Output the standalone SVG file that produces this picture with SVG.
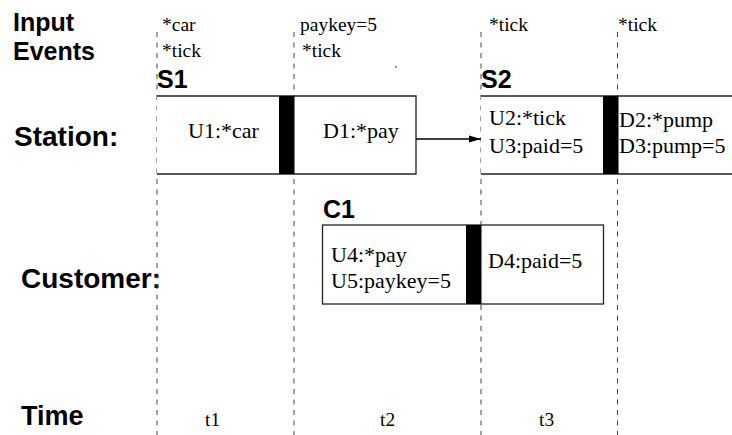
<svg xmlns="http://www.w3.org/2000/svg" width="732" height="435" viewBox="0 0 732 435">
  <defs>
    <style>
      .lbl { font-family: "Liberation Sans", Arial, sans-serif; font-weight: bold; fill: #000; }
      .row { font-size: 28px; }
      .hdr { font-size: 25px; }
      .txt { font-family: "Liberation Serif", "Times New Roman", serif; font-size: 22px; fill: #000; }
      .ev { font-family: "Liberation Serif", "Times New Roman", serif; font-size: 19.5px; fill: #000; }
      .tl { stroke: #444; stroke-width: 1; stroke-dasharray: 5 5.5; fill: none; }
      .box { fill: #fff; stroke: #222; stroke-width: 1.3; }
      .edge { fill: none; stroke: #222; stroke-width: 1.3; }
      .bar { fill: #000; }
      .conn { stroke: #000; stroke-width: 1.3; fill: none; }
    </style>
    <marker id="arrow" markerWidth="12" markerHeight="8" refX="12" refY="4" orient="auto" markerUnits="userSpaceOnUse">
      <path d="M0,0.6 L12,4 L0,7.4 Z" fill="#000"/>
    </marker>
  </defs>

  <rect width="732" height="435" fill="#fff"/>

  <!-- row headings -->
  <g id="headings">
    <text class="lbl hdr" x="13" y="31">Input</text>
    <text class="lbl hdr" x="13" y="60">Events</text>
    <text class="lbl row" x="14" y="146">Station:</text>
    <text class="lbl row" x="21" y="288">Customer:</text>
    <text class="lbl row" x="21" y="425" style="font-size:27px">Time</text>
  </g>

  <!-- time step boundaries -->
  <g id="timelines">
    <line class="tl" x1="157" y1="32" x2="157" y2="435"/>
    <line class="tl" x1="294" y1="32" x2="294" y2="435"/>
    <line class="tl" x1="481" y1="32" x2="481" y2="435"/>
    <line class="tl" x1="617.5" y1="32" x2="617.5" y2="435"/>
  </g>

  <!-- input events per step -->
  <g id="events">
    <text class="ev" x="162" y="31">*car</text>
    <text class="ev" x="162" y="57">*tick</text>
    <text class="ev" x="300" y="31">paykey=5</text>
    <text class="ev" x="302" y="57">*tick</text>
    <text class="ev" x="489" y="31">*tick</text>
    <text class="ev" x="618" y="31">*tick</text>
    <rect x="395" y="66" width="1.6" height="1.6" fill="#555"/>
  </g>

  <!-- station S1 -->
  <g id="S1">
    <text class="lbl hdr" x="157" y="88">S1</text>
    <rect x="157" y="96" width="259" height="78" fill="#fff"/>
    <path class="edge" d="M157,96 H416 V174 H157"/>
    <rect class="bar" x="279" y="96" width="15.5" height="78"/>
    <text class="txt" x="188" y="138">U1:*car</text>
    <text class="txt" x="323" y="138">D1:*pay</text>
  </g>

  <!-- station S2 -->
  <g id="S2">
    <text class="lbl hdr" x="481" y="88">S2</text>
    <rect x="481" y="96" width="260" height="78" fill="#fff"/>
    <path class="edge" d="M481,96 H740 M740,174 H481"/>
    <rect class="bar" x="603" y="96" width="15.5" height="78"/>
    <text class="txt" x="489" y="125">U2:*tick</text>
    <text class="txt" x="489" y="153">U3:paid=5</text>
    <text class="txt" x="619" y="127">D2:*pump</text>
    <text class="txt" x="619" y="153">D3:pump=5</text>
  </g>

  <!-- customer C1 -->
  <g id="C1">
    <text class="lbl hdr" x="323" y="218">C1</text>
    <rect class="box" x="322.5" y="225" width="281" height="79"/>
    <rect class="bar" x="466" y="225" width="15.5" height="79"/>
    <text class="txt" x="331" y="262">U4:*pay</text>
    <text class="txt" x="331" y="288">U5:paykey=5</text>
    <text class="txt" x="488" y="268">D4:paid=5</text>
  </g>

  <!-- step labels -->
  <g id="steps">
    <text class="ev" x="205" y="426">t1</text>
    <text class="ev" x="380" y="426">t2</text>
    <text class="ev" x="539" y="426">t3</text>
  </g>

  <!-- connectors -->
  <g id="connectors">
    <line class="conn" x1="416" y1="139" x2="481" y2="139" marker-end="url(#arrow)"/>
  </g>
</svg>
